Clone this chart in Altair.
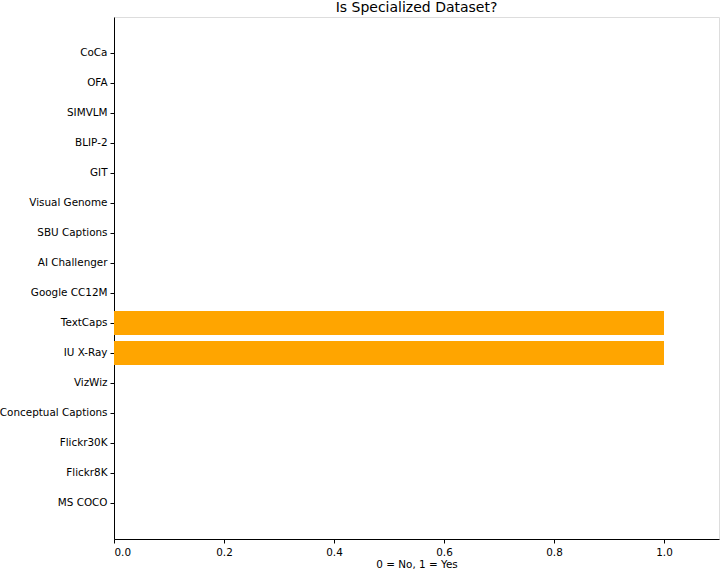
import altair as alt
import pandas as pd

datasets = ["CoCa", "OFA", "SIMVLM", "BLIP-2", "GIT", "Visual Genome", "SBU Captions",
            "AI Challenger", "Google CC12M", "TextCaps", "IU X-Ray", "VizWiz",
            "Conceptual Captions", "Flickr30K", "Flickr8K", "MS COCO"]
is_specialized = [0, 0, 0, 0, 0, 0, 0, 0, 0, 1, 1, 0, 0, 0, 0, 0]
x_ticks = [0.0, 0.2, 0.4, 0.6, 0.8, 1.0]

df = pd.DataFrame({"dataset": datasets, "value": is_specialized})

font = "DejaVu Sans"

chart = alt.Chart(df).mark_bar(color="#FFA500").encode(
    x=alt.X("value:Q",
            scale=alt.Scale(domain=[0, 1.1], nice=False, zero=True),
            axis=alt.Axis(values=x_ticks, format=".1f", grid=False, title="0 = No, 1 = Yes",
                          tickSize=4, tickColor="black", domainColor="black",
                          labelPadding=4, titlePadding=2, labelFontSize=10.4, titleFontSize=10.4,
                          labelColor="black", titleColor="black", titleFontWeight="normal",
                          labelFont=font, titleFont=font)),
    y=alt.Y("dataset:N", sort=datasets,
            scale=alt.Scale(paddingInner=0.2, paddingOuter=0.8),
            axis=alt.Axis(title=None, grid=False, tickSize=4, tickColor="black",
                          domainColor="black", labelPadding=3, labelFontSize=10.4,
                          labelColor="black", labelFont=font)),
).properties(
    width=605,
    height=522,
    title=alt.TitleParams("Is Specialized Dataset?", fontSize=14, font=font,
                          fontWeight="normal", color="black", anchor="middle", offset=2),
    autosize=alt.AutoSizeParams(type="none"),
    padding={"left": 114, "top": 17, "right": 1, "bottom": 31},
).configure_view(stroke="black", strokeWidth=1).configure(background="white")

chart.save("out.html", embed_options={"renderer": "svg", "actions": False})
